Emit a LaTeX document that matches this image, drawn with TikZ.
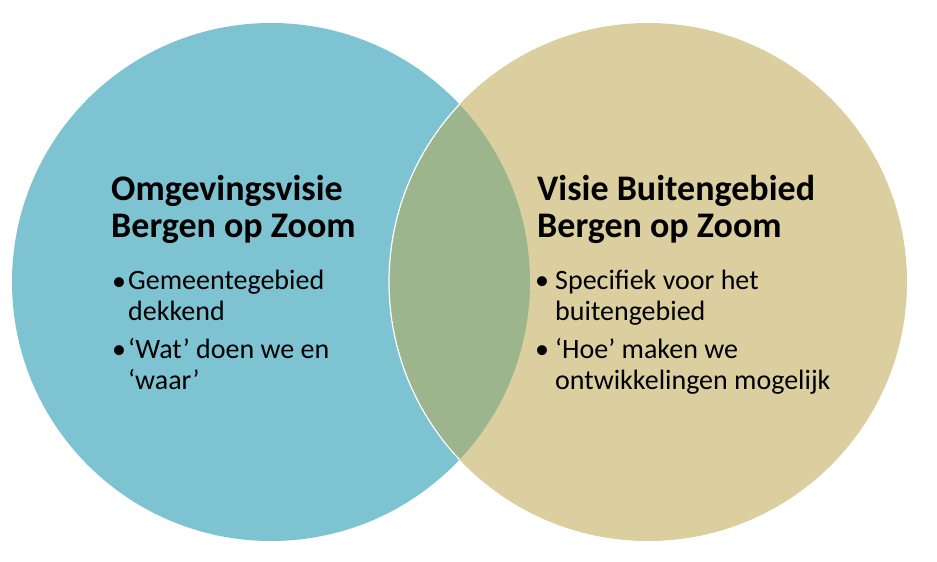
\documentclass[tikz,border=0pt]{standalone}
\usepackage{fontspec}
\setmainfont{Carlito}
\definecolor{vblue}{HTML}{7DC3D1}
\definecolor{vtan}{HTML}{DCCF9F}
\definecolor{vgreen}{HTML}{9CB58D}
\tikzset{
  titletext/.style={anchor=base west, inner sep=0pt, align=left, font=\bfseries\fontsize{36}{37}\selectfont},
  itemtext/.style={anchor=base west, inner sep=0pt, align=left, font=\fontsize{28}{31}\selectfont},
  bulletmark/.style={anchor=base west, inner sep=0pt, font=\fontsize{28}{31}\selectfont},
}
\begin{document}
\begin{tikzpicture}[x=1pt,y=-1pt]
\useasboundingbox (0,0) rectangle (937,562);
\fill[vblue] (271,282) circle[radius=259pt];
\fill[vtan] (648,282) circle[radius=259pt];
\begin{scope}
  \clip (271,282) circle[radius=259pt];
  \fill[vgreen] (648,282) circle[radius=259pt];
  \draw[white, line width=1.2pt] (648,282) circle[radius=259pt];
\end{scope}
% left
\node[titletext] (lt) at (111,237) {Omgevingsvisie\\Bergen op Zoom};
\node[bulletmark] (lb1) at (112,290) {•};
\node[itemtext] (li1) at (128,320) {Gemeentegebied\\dekkend};
\node[bulletmark] (lb2) at (112,358) {•};
\node[itemtext] (li2) at (128,389) {‘Wat’ doen we en\\‘waar’};
% right
\node[titletext] (rt) at (537,237) {Visie Buitengebied\\Bergen op Zoom};
\node[bulletmark] (rb1) at (535,289) {•};
\node[itemtext] (ri1) at (555,320) {Specifiek voor het\\buitengebied};
\node[bulletmark] (rb2) at (535,358) {•};
\node[itemtext] (ri2) at (555,389) {‘Hoe’ maken we\\ontwikkelingen mogelijk};
\end{tikzpicture}
\end{document}
